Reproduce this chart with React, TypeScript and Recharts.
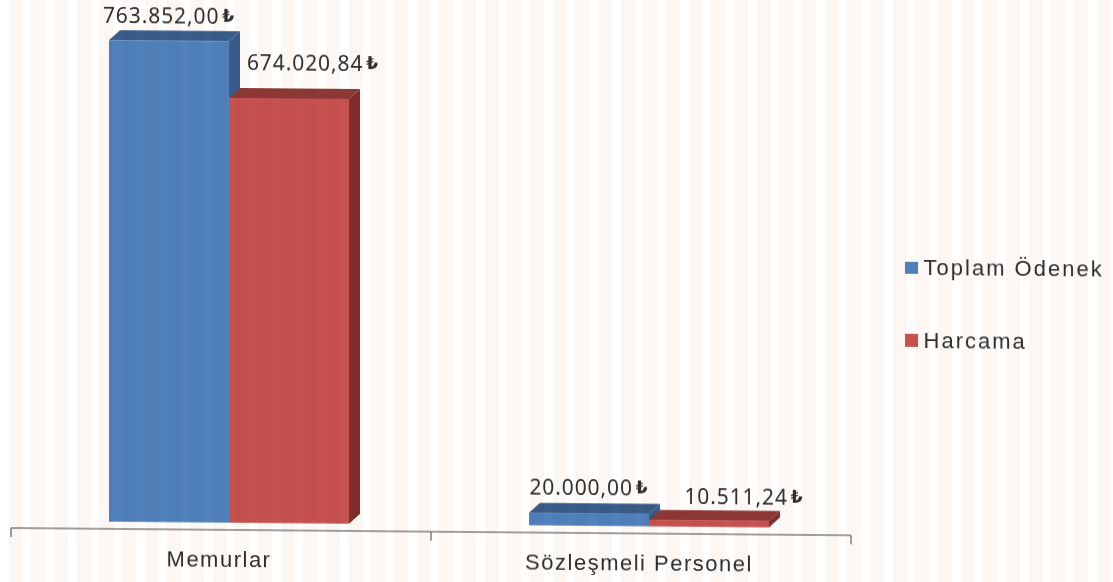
import React from "react";
import { BarChart, Bar, XAxis, YAxis, LabelList, Legend } from "recharts";

const categories = ["Memurlar", "Sözleşmeli Personel"];
const toplamOdenek = [763852, 20000];
const harcama = [674020.84, 10511.24];
const seriesNames = ["Toplam Ödenek", "Harcama"];
const seriesColors = ["#4f81bd", "#c5524f"];

const data = categories.map((name, i) => ({ name, toplam: toplamOdenek[i], harcama: harcama[i] }));

const W = 1113;
const H = 582;
const DEPTH_X = 11;
const DEPTH_Y = 10;
const PROJECTION_SHIFT = 8;

const formatTL = (v: number) => {
  const [a, b] = v.toFixed(2).split(".");
  return `${a.replace(/\B(?=(\d{3})+(?!\d))/g, ".")},${b}`;
};

const make3D = (front: string, top: string, side: string) => (p: any) => {
  const { y, width: w, height: h } = p;
  const x = p.x + PROJECTION_SHIFT;
  return (
    <g>
      <polygon points={`${x},${y} ${x + DEPTH_X},${y - DEPTH_Y} ${x + w + DEPTH_X},${y - DEPTH_Y} ${x + w},${y}`} fill={top} />
      <polygon points={`${x + w},${y} ${x + w + DEPTH_X},${y - DEPTH_Y} ${x + w + DEPTH_X},${y + h - DEPTH_Y} ${x + w},${y + h}`} fill={side} />
      <rect x={x} y={y} width={w} height={h} fill={front} />
    </g>
  );
};

const makeLabel = (offsets: number[][]) => (p: any) => {
  const { x, y, width: w, value, index } = p;
  const [dx, dy] = offsets[index];
  return (
    <text x={x + PROJECTION_SHIFT + w / 2 + dx} y={y + dy} textAnchor="middle" dominantBaseline="central"
      fontFamily="'Noto Sans', sans-serif" fontSize={21} letterSpacing={0.9} fill="#2e2e2e">
      {formatTL(value)}
      <tspan fontFamily="'DejaVu Sans', sans-serif" fontSize={17} fontWeight={700} dx={3}>₺</tspan>
    </text>
  );
};

const AxisTick = (p: any) => {
  const { x, y, payload, index } = p;
  const band = 420;
  const left = x - band / 2;
  const axisY = y - 8;
  return (
    <g>
      <line x1={left} x2={left} y1={axisY} y2={axisY + 9} stroke="#808080" strokeWidth={1.5} />
      {index === categories.length - 1 && (
        <line x1={left + band} x2={left + band} y1={axisY} y2={axisY + 9} stroke="#808080" strokeWidth={1.5} />
      )}
      <text x={x - 2} y={axisY + 30} textAnchor="middle" dominantBaseline="central"
        fontFamily="'Liberation Sans', sans-serif" fontSize={22} letterSpacing={1.5} fill="#2e2e2e">
        {payload.value}
      </text>
    </g>
  );
};

const LegendBox = () => (
  <div style={{ position: "relative", width: 210, height: 0 }}>
    {seriesNames.map((n, i) => (
      <div key={n} style={{ position: "absolute", left: 0, top: i * 72.5, display: "flex", alignItems: "center", height: 26 }}>
        <span style={{ width: 12.5, height: 12.5, background: seriesColors[i], display: "inline-block", marginRight: 6 }} />
        <span style={{ fontFamily: "'Liberation Sans', sans-serif", fontSize: 22, letterSpacing: 2, color: "#2e2e2e", whiteSpace: "nowrap" }}>{n}</span>
      </div>
    ))}
  </div>
);

export default function App() {
  return (
    <div style={{ position: "fixed", left: 0, top: 0, width: W, height: H, overflow: "hidden", background: "#fff" }}>
      <div style={{ position: "absolute", left: 0, top: 0, transform: "skewY(0.5deg)", transformOrigin: "11px 528px", filter: "blur(0.45px)" }}>
        <BarChart width={W} height={H} data={data} barCategoryGap={90} barGap={0}
          margin={{ top: 17, right: 262, bottom: 0, left: 11 }}>
          <YAxis hide type="number" domain={[-11500, 796300]} allowDataOverflow />
          <XAxis dataKey="name" interval={0} tickLine={false} tick={<AxisTick />} height={54}
            axisLine={{ stroke: "#808080", strokeWidth: 1.5 }} />
          <Legend content={<LegendBox />} layout="vertical" verticalAlign="top"
            wrapperStyle={{ position: "absolute", left: 905, top: 247, width: 210, height: 0 }} />
          <Bar dataKey="toplam" name={seriesNames[0]} isAnimationActive={false}
            shape={make3D("#4f81bd", "#385d8a", "#385d8a")}>
            <LabelList dataKey="toplam" content={makeLabel([[0, -25], [0, -26]])} />
          </Bar>
          <Bar dataKey="harcama" name={seriesNames[1]} isAnimationActive={false}
            shape={make3D("#c5524f", "#8c3836", "#7e2f2d")}>
            <LabelList dataKey="harcama" content={makeLabel([[24, -36], [35, -24]])} />
          </Bar>
        </BarChart>
      </div>
      <div style={{
        position: "absolute", inset: 0, pointerEvents: "none", mixBlendMode: "multiply",
        background: "repeating-linear-gradient(90deg, #ffffff 0 8.5px, #fdf7f4 8.5px 22.67px)",
      }} />
    </div>
  );
}
